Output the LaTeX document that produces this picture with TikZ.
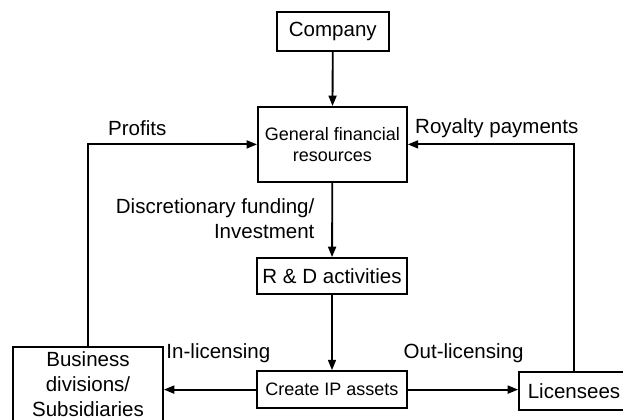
\documentclass[tikz,border=0pt]{standalone}
\usepackage{fontspec}
\setmainfont{Liberation Sans}
\usetikzlibrary{arrows.meta}

\begin{document}
\begin{tikzpicture}[line width = 1.3pt,
                    >={Triangle[length=2.6mm, width=2mm]},
                    big/.style = {font=\fontsize{14.6}{17.6}\selectfont},
                    small/.style = {font=\fontsize{12.8}{14.9}\selectfont},
                    box/.style = {draw, inner sep=0pt, align=center}]
  \useasboundingbox (0, 0) rectangle (15.575, 10.5);
  \node [box, big, minimum width=2.8cm, minimum height=0.975cm] (company) at (8.32, 9.71) {Company};
  \node [box, small, minimum width=3.725cm, minimum height=1.875cm] (gfr) at (8.31, 6.89) {General financial\\resources};
  \node [box, big, minimum width=3.75cm, minimum height=0.9cm] (rnd) at (8.3, 3.6) {R \& D activities};
  \node [box, small, minimum width=3.75cm, minimum height=0.925cm] (ip) at (8.3, 0.76) {Create IP assets};
  \node [box, big, minimum width=3.75cm, minimum height=1.85cm] (biz) at (2.2, 0.9) {Business\\divisions/\\Subsidiaries};
  \node [box, big, minimum width=2.75cm, minimum height=0.95cm] (lic) at (14.35, 0.725) {Licensees};
  % labels
  \node [big] (profits) at (3.43, 7.3) {Profits};
  \node [big] (royalty) at (12.42, 7.3) {Royalty payments};
  \node [big, anchor=east, align=right] (funding) at (8.0, 5.04) {Discretionary funding/\\Investment};
  \node [big] (inlic) at (5.46, 1.675) {In-licensing};
  \node [big] (outlic) at (11.59, 1.675) {Out-licensing};
  % connectors
  \draw [->] (company) -- (gfr);
  \draw [->] (gfr) -- (rnd);
  \draw [->] (rnd) -- (ip);
  \draw [->] (ip.west) -- (ip.west -| biz.east);
  \draw [->] (ip.east) -- (ip.east -| lic.west);
  \draw [->] (biz.north) |- (gfr.west);
  \draw [->] (lic.north) |- (gfr.east);
\end{tikzpicture}
\end{document}
